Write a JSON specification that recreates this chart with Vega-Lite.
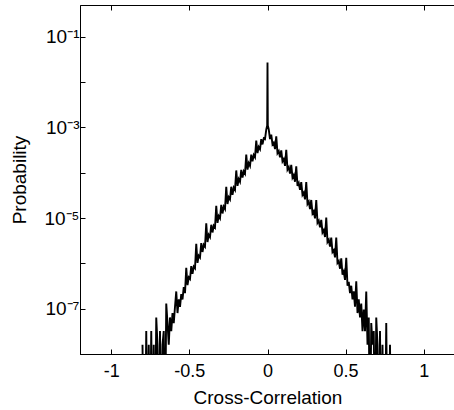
{
  "$schema": "https://vega.github.io/schema/vega-lite/v6.json",
  "width": 375,
  "height": 349,
  "autosize": {"type": "none"},
  "padding": {"left": 80, "top": 5, "right": 0, "bottom": 56},
  "background": "white",
  "config": {"view": {"stroke": "black", "strokeWidth": 1}, "font": "Liberation Sans"},
  "data": {"values": [
    {"x": -0.8, "p": 1.6e-8}, {"x": -0.792, "p": 1e-10}, {"x": -0.784, "p": 1e-10}, {"x": -0.776, "p": 3.2e-8},
    {"x": -0.768, "p": 1e-10}, {"x": -0.76, "p": 1.6e-8}, {"x": -0.752, "p": 1e-10}, {"x": -0.744, "p": 3.2e-8},
    {"x": -0.736, "p": 1e-10}, {"x": -0.728, "p": 1.6e-8}, {"x": -0.72, "p": 1e-10}, {"x": -0.712, "p": 6.4e-8},
    {"x": -0.704, "p": 1.6e-8}, {"x": -0.696, "p": 1e-10}, {"x": -0.688, "p": 3.2e-8}, {"x": -0.68, "p": 1e-10},
    {"x": -0.672, "p": 1.6e-8}, {"x": -0.664, "p": 3.2e-8}, {"x": -0.656, "p": 1e-10}, {"x": -0.648, "p": 1.3e-7},
    {"x": -0.64, "p": 4.8e-8}, {"x": -0.632, "p": 1.6e-8}, {"x": -0.624, "p": 6.4e-8}, {"x": -0.616, "p": 3.2e-8},
    {"x": -0.608, "p": 8e-8}, {"x": -0.6, "p": 4.8e-8}, {"x": -0.592, "p": 1.1e-7}, {"x": -0.584, "p": 2.4e-7},
    {"x": -0.576, "p": 8e-8}, {"x": -0.568, "p": 1.6e-7}, {"x": -0.56, "p": 1.1e-7}, {"x": -0.552, "p": 2.1e-7},
    {"x": -0.544, "p": 1.6e-7}, {"x": -0.536, "p": 3.0e-7}, {"x": -0.528, "p": 2.2e-7}, {"x": -0.52, "p": 8.0e-7},
    {"x": -0.512, "p": 3.3e-7}, {"x": -0.504, "p": 4.9e-7}, {"x": -0.496, "p": 4.5e-7}, {"x": -0.488, "p": 8.7e-7},
    {"x": -0.48, "p": 5.9e-7}, {"x": -0.472, "p": 8.5e-7}, {"x": -0.464, "p": 7.8e-7}, {"x": -0.456, "p": 2.7e-6},
    {"x": -0.448, "p": 1.02e-6}, {"x": -0.44, "p": 1.48e-6}, {"x": -0.432, "p": 1.35e-6}, {"x": -0.424, "p": 2.8e-6},
    {"x": -0.416, "p": 1.78e-6}, {"x": -0.408, "p": 2.57e-6}, {"x": -0.4, "p": 2.34e-6}, {"x": -0.392, "p": 7.6e-6},
    {"x": -0.384, "p": 2.95e-6}, {"x": -0.376, "p": 4.27e-6}, {"x": -0.368, "p": 3.8e-6}, {"x": -0.36, "p": 7.1e-6},
    {"x": -0.352, "p": 4.8e-6}, {"x": -0.344, "p": 6.8e-6}, {"x": -0.336, "p": 6.2e-6}, {"x": -0.328, "p": 1.86e-5},
    {"x": -0.32, "p": 7.8e-6}, {"x": -0.312, "p": 1.1e-5}, {"x": -0.304, "p": 9.8e-6}, {"x": -0.296, "p": 1.95e-5},
    {"x": -0.288, "p": 1.26e-5}, {"x": -0.28, "p": 1.78e-5}, {"x": -0.272, "p": 1.58e-5}, {"x": -0.264, "p": 4.9e-5},
    {"x": -0.256, "p": 2.04e-5}, {"x": -0.248, "p": 2.88e-5}, {"x": -0.24, "p": 2.57e-5}, {"x": -0.232, "p": 4.9e-5},
    {"x": -0.224, "p": 3.24e-5}, {"x": -0.216, "p": 4.68e-5}, {"x": -0.208, "p": 4.17e-5}, {"x": -0.2, "p": 1.12e-4},
    {"x": -0.192, "p": 5.1e-5}, {"x": -0.184, "p": 7.2e-5}, {"x": -0.176, "p": 6.3e-5}, {"x": -0.168, "p": 1.15e-4},
    {"x": -0.16, "p": 7.8e-5}, {"x": -0.152, "p": 1.07e-4}, {"x": -0.144, "p": 9.5e-5}, {"x": -0.136, "p": 2.5e-4},
    {"x": -0.128, "p": 1.17e-4}, {"x": -0.12, "p": 1.62e-4}, {"x": -0.112, "p": 1.41e-4}, {"x": -0.104, "p": 2.5e-4},
    {"x": -0.096, "p": 1.78e-4}, {"x": -0.088, "p": 2.45e-4}, {"x": -0.08, "p": 2.19e-4}, {"x": -0.072, "p": 5.1e-4},
    {"x": -0.064, "p": 2.7e-4}, {"x": -0.056, "p": 3.7e-4}, {"x": -0.048, "p": 3.3e-4}, {"x": -0.04, "p": 5.5e-4},
    {"x": -0.032, "p": 4.2e-4}, {"x": -0.024, "p": 5.75e-4}, {"x": -0.016, "p": 5.5e-4}, {"x": -0.008, "p": 8.9e-4},
    {"x": -0.002, "p": 1.1e-3}, {"x": 0, "p": 0.027}, {"x": 0.002, "p": 1.1e-3},
    {"x": 0.008, "p": 9.0e-4}, {"x": 0.016, "p": 5.5e-4}, {"x": 0.024, "p": 6.9e-4}, {"x": 0.032, "p": 4.2e-4},
    {"x": 0.04, "p": 4.6e-4}, {"x": 0.048, "p": 3.3e-4}, {"x": 0.056, "p": 6.3e-4}, {"x": 0.064, "p": 2.7e-4},
    {"x": 0.072, "p": 3.0e-4}, {"x": 0.08, "p": 2.19e-4}, {"x": 0.088, "p": 3.1e-4}, {"x": 0.096, "p": 1.78e-4},
    {"x": 0.104, "p": 2.0e-4}, {"x": 0.112, "p": 1.41e-4}, {"x": 0.12, "p": 3.2e-4}, {"x": 0.128, "p": 1.17e-4},
    {"x": 0.136, "p": 1.32e-4}, {"x": 0.144, "p": 9.5e-5}, {"x": 0.152, "p": 1.48e-4}, {"x": 0.16, "p": 7.8e-5},
    {"x": 0.168, "p": 8.9e-5}, {"x": 0.176, "p": 6.3e-5}, {"x": 0.184, "p": 1.38e-4}, {"x": 0.192, "p": 5.1e-5},
    {"x": 0.2, "p": 5.9e-5}, {"x": 0.208, "p": 4.17e-5}, {"x": 0.216, "p": 6.2e-5}, {"x": 0.224, "p": 3.24e-5},
    {"x": 0.232, "p": 3.63e-5}, {"x": 0.24, "p": 2.57e-5}, {"x": 0.248, "p": 6.2e-5}, {"x": 0.256, "p": 2.04e-5},
    {"x": 0.264, "p": 2.29e-5}, {"x": 0.272, "p": 1.58e-5}, {"x": 0.28, "p": 2.5e-5}, {"x": 0.288, "p": 1.26e-5},
    {"x": 0.296, "p": 1.41e-5}, {"x": 0.304, "p": 9.8e-6}, {"x": 0.312, "p": 2.5e-5}, {"x": 0.32, "p": 7.8e-6},
    {"x": 0.328, "p": 8.7e-6}, {"x": 0.336, "p": 6.2e-6}, {"x": 0.344, "p": 9.1e-6}, {"x": 0.352, "p": 4.8e-6},
    {"x": 0.36, "p": 5.4e-6}, {"x": 0.368, "p": 3.8e-6}, {"x": 0.376, "p": 1.02e-5}, {"x": 0.384, "p": 2.95e-6},
    {"x": 0.392, "p": 3.3e-6}, {"x": 0.4, "p": 2.34e-6}, {"x": 0.408, "p": 3.7e-6}, {"x": 0.416, "p": 1.78e-6},
    {"x": 0.424, "p": 1.95e-6}, {"x": 0.432, "p": 1.35e-6}, {"x": 0.44, "p": 3.7e-6}, {"x": 0.448, "p": 1.02e-6},
    {"x": 0.456, "p": 1.12e-6}, {"x": 0.464, "p": 7.6e-7}, {"x": 0.472, "p": 1.29e-6}, {"x": 0.48, "p": 5.6e-7},
    {"x": 0.488, "p": 6.6e-7}, {"x": 0.496, "p": 4.3e-7}, {"x": 0.504, "p": 1.32e-6}, {"x": 0.512, "p": 3.2e-7},
    {"x": 0.52, "p": 3.9e-7}, {"x": 0.528, "p": 2.2e-7}, {"x": 0.536, "p": 3.2e-7}, {"x": 0.544, "p": 1.6e-7},
    {"x": 0.552, "p": 2.4e-7}, {"x": 0.56, "p": 1.1e-7}, {"x": 0.568, "p": 4.0e-7}, {"x": 0.576, "p": 8e-8},
    {"x": 0.584, "p": 1.6e-7}, {"x": 0.592, "p": 6.4e-8}, {"x": 0.6, "p": 1.3e-7}, {"x": 0.608, "p": 3.2e-8},
    {"x": 0.616, "p": 9.6e-8}, {"x": 0.624, "p": 3.2e-8}, {"x": 0.632, "p": 2.4e-7}, {"x": 0.64, "p": 1.6e-8},
    {"x": 0.648, "p": 6.4e-8}, {"x": 0.656, "p": 1e-10}, {"x": 0.664, "p": 4.8e-8}, {"x": 0.672, "p": 1.6e-8},
    {"x": 0.68, "p": 3.2e-8}, {"x": 0.688, "p": 1e-10}, {"x": 0.696, "p": 6.4e-8}, {"x": 0.704, "p": 1.6e-8},
    {"x": 0.712, "p": 1e-10}, {"x": 0.72, "p": 3.2e-8}, {"x": 0.728, "p": 1e-10}, {"x": 0.736, "p": 1.6e-8},
    {"x": 0.744, "p": 1e-10}, {"x": 0.752, "p": 1e-10}, {"x": 0.76, "p": 4.8e-8}, {"x": 0.768, "p": 1e-10},
    {"x": 0.776, "p": 1e-10}, {"x": 0.784, "p": 1.6e-8}, {"x": 0.792, "p": 1e-10}, {"x": 0.8, "p": 1e-10}
  ]},
  "resolve": {"axis": {"x": "independent", "y": "independent"}},
  "layer": [
    {
      "mark": {"type": "line", "color": "black", "strokeWidth": 1.9, "clip": true},
      "encoding": {
        "x": {
          "field": "x", "type": "quantitative",
          "scale": {"domain": [-1.2, 1.2], "nice": false, "zero": false},
          "axis": {
            "title": "Cross-Correlation", "values": [-1, -0.5, 0, 0.5, 1],
            "labelExpr": "datum.value == 0 ? '0' : (datum.value < 0 ? '-' : '') + abs(datum.value)",
            "grid": false, "tickSize": -5, "tickColor": "black", "domainColor": "black",
            "labelFontSize": 18, "labelColor": "black", "labelPadding": 13, "labelFont": "Liberation Sans",
            "titleFontSize": 19, "titleFontWeight": "normal", "titleColor": "black", "titlePadding": 8, "titleFont": "Liberation Sans"
          }
        },
        "y": {
          "field": "p", "type": "quantitative",
          "scale": {"type": "log", "domain": [1e-8, 0.5], "nice": false},
          "axis": {
            "title": "Probability", "values": [1e-8, 1e-7, 1e-6, 1e-5, 1e-4, 1e-3, 1e-2, 1e-1],
            "labelExpr": "round(log(datum.value)/LN10) == -1 ? '10⁻¹' : round(log(datum.value)/LN10) == -3 ? '10⁻³' : round(log(datum.value)/LN10) == -5 ? '10⁻⁵' : round(log(datum.value)/LN10) == -7 ? '10⁻⁷' : ''",
            "grid": false, "tickSize": -5, "tickColor": "black", "domainColor": "black",
            "labelFontSize": 19, "labelColor": "black", "labelPadding": 6, "labelFont": "Liberation Sans",
            "titleFontSize": 19, "titleFontWeight": "normal", "titleColor": "black", "titlePadding": 14, "titleFont": "Liberation Sans"
          }
        }
      }
    },
    {
      "mark": {"type": "point", "opacity": 0},
      "encoding": {
        "x": {
          "field": "x", "type": "quantitative",
          "axis": {"orient": "top", "values": [-1, -0.5, 0, 0.5, 1], "labels": false, "title": null, "grid": false, "domain": false, "tickSize": -5, "tickColor": "black"}
        },
        "y": {"field": "p", "type": "quantitative", "axis": null}
      }
    }
  ]
}
